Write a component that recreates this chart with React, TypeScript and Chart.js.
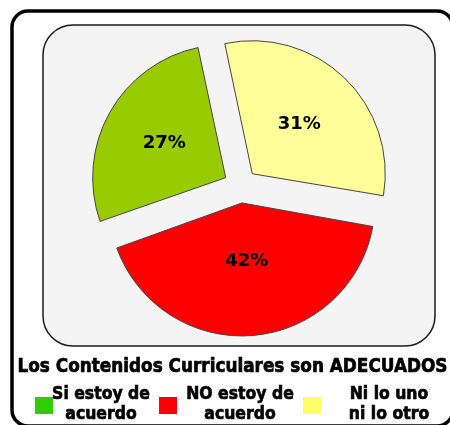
import { useEffect, useRef } from 'react';
import { Chart, registerables } from 'chart.js';

Chart.register(...registerables);

// ---- data ----
const categories = ['Si estoy de acuerdo', 'Ni lo uno ni lo otro', 'NO estoy de acuerdo'];
const values = [27, 31, 42];
const sliceColors = ['#99cc00', '#ffff99', '#ff0000'];
const legendOrder = [0, 2, 1];
const legendLines = [['Si estoy de', 'acuerdo'], ['Ni lo uno', 'ni lo otro'], ['NO estoy de', 'acuerdo']];
const legendColors = ['#33cc00', '#ffff66', '#ff0000'];
const chartTitle = 'Los Contenidos Curriculares son ADECUADOS';

const OFFSET = 68; // Chart.js translates by offset/4
const RADIUS = 133;

function roundRect(ctx: CanvasRenderingContext2D, x: number, y: number, w: number, h: number, r: number) {
  ctx.beginPath();
  ctx.moveTo(x + r, y);
  ctx.lineTo(x + w - r, y);
  ctx.arcTo(x + w, y, x + w, y + r, r);
  ctx.lineTo(x + w, y + h - r);
  ctx.arcTo(x + w, y + h, x + w - r, y + h, r);
  ctx.lineTo(x + r, y + h);
  ctx.arcTo(x, y + h, x, y + h - r, r);
  ctx.lineTo(x, y + r);
  ctx.arcTo(x, y, x + r, y, r);
  ctx.closePath();
}

function drawScaled(ctx: CanvasRenderingContext2D, text: string, cx: number, y: number, sx: number) {
  ctx.save();
  ctx.translate(cx, y);
  ctx.scale(sx, 1);
  ctx.textAlign = 'center';
  ctx.textBaseline = 'alphabetic';
  ctx.lineWidth = 0.7;
  ctx.strokeStyle = '#000000';
  ctx.strokeText(text, 0, 0);
  ctx.fillText(text, 0, 0);
  ctx.restore();
}

const framePlugin = {
  id: 'frame',
  beforeDraw(chart: any) {
    const ctx = chart.ctx as CanvasRenderingContext2D;
    ctx.save();
    ctx.fillStyle = '#ffffff';
    ctx.fillRect(0, 0, chart.width, chart.height);
    roundRect(ctx, 12, 11, 441, 415, 16);
    ctx.lineWidth = 3.5;
    ctx.strokeStyle = '#000000';
    ctx.stroke();
    roundRect(ctx, 43, 25, 392, 321, 30);
    ctx.fillStyle = '#f4f4f4';
    ctx.fill();
    ctx.lineWidth = 1.5;
    ctx.strokeStyle = '#1a1a1a';
    ctx.stroke();
    ctx.restore();
  },
};

const fixRadiusPlugin = {
  id: 'fixRadius',
  afterDatasetUpdate(chart: any) {
    const meta = chart.getDatasetMeta(0);
    meta.data.forEach((arc: any) => {
      const circ = arc.endAngle - arc.startAngle;
      const fix = 1 - Math.sin(Math.min(Math.PI, circ));
      arc.outerRadius = RADIUS - (OFFSET / 4) * fix;
    });
  },
};

const labelPlugin = {
  id: 'sliceLabels',
  afterDatasetsDraw(chart: any) {
    const ctx = chart.ctx as CanvasRenderingContext2D;
    const meta = chart.getDatasetMeta(0);
    ctx.save();
    ctx.fillStyle = '#000000';
    ctx.font = 'bold 18px "DejaVu Sans"';
    ctx.textAlign = 'center';
    ctx.textBaseline = 'middle';
    meta.data.forEach((arc: any, i: number) => {
      const mid = (arc.startAngle + arc.endAngle) / 2;
      const theta = arc.endAngle - arc.startAngle;
      const d = (2 / 3) * RADIUS * Math.sin(theta / 2) / (theta / 2) * 0.9;
      const r = OFFSET / 4 + d;
      const x = arc.x + Math.cos(mid) * r;
      const y = arc.y + Math.sin(mid) * r;
      ctx.fillText(values[i] + '%', x, y);
    });
    ctx.restore();
  },
  afterDraw(chart: any) {
    const ctx = chart.ctx as CanvasRenderingContext2D;
    ctx.save();
    ctx.fillStyle = '#000000';
    ctx.font = 'bold 19px "DejaVu Sans"';
    const w = ctx.measureText(chartTitle).width;
    drawScaled(ctx, chartTitle, 232.5, 372, 430 / w);

    const boxX = [35, 159, 303];
    const textCX = [101, 240, 389];
    ctx.font = 'bold 18px "DejaVu Sans"';
    legendOrder.forEach((idx, k) => {
      ctx.fillStyle = legendColors[idx];
      ctx.fillRect(boxX[k], 397, 18, 17);
      ctx.fillStyle = '#000000';
      drawScaled(ctx, legendLines[idx][0], textCX[k], 399, 0.87);
      drawScaled(ctx, legendLines[idx][1], textCX[k], 419, 0.87);
    });
    ctx.restore();
  },
};

export default function App() {
  const ref = useRef<HTMLCanvasElement | null>(null);
  useEffect(() => {
    if (!ref.current) return;
    const chart = new Chart(ref.current, {
      type: 'pie',
      data: {
        labels: categories,
        datasets: [
          {
            data: values,
            backgroundColor: sliceColors,
            borderColor: '#444444',
            borderWidth: 1,
            offset: OFFSET,
            hoverOffset: 0,
          },
        ],
      },
      options: {
        responsive: false,
        animation: false,
        rotation: -109.2,
        radius: RADIUS,
        layout: { padding: { left: 90, right: 59, top: 36, bottom: 89 } },
        plugins: {
          legend: { display: false },
          title: { display: false },
          tooltip: { enabled: false },
        },
        events: [],
      } as any,
      plugins: [framePlugin, fixRadiusPlugin, labelPlugin],
    });
    return () => chart.destroy();
  }, []);
  return (
    <div style={{ position: 'absolute', left: 0, top: 0, width: 450, height: 425 }}>
      <canvas ref={ref} width={450} height={425} />
    </div>
  );
}
